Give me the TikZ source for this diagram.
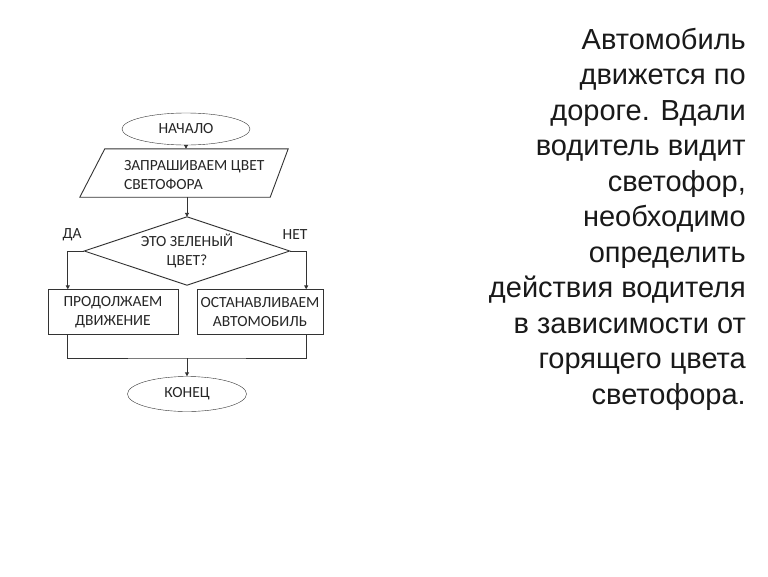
\documentclass[tikz,border=0pt]{standalone}
\usepackage{fontspec}
\setmainfont{Liberation Sans}
\newfontfamily\chartfont{Carlito}
\usetikzlibrary{arrows.meta,shapes.geometric}

\begin{document}
\begin{tikzpicture}[x=1pt,y=-1pt,
    chart/.style={font=\chartfont\fontsize{15.5}{18.5}\selectfont,text=black!85},
    terminal/.style={chart,draw=black!80,ellipse,inner sep=0pt},
    block/.style={chart,draw=black!80,rectangle,align=center,inner sep=0pt},
    frame/.style={chart,inner sep=0pt},
    line/.style={draw=black!80,line width=0.9pt},
    flow/.style={line,-{Triangle[length=4pt,width=4pt]}}]
  \useasboundingbox[fill=white] (0,0) rectangle (768,576);

  % flowchart
  \node[terminal,minimum width=128pt,minimum height=32pt] (start) at (186,129) {НАЧАЛО};
  \node[frame,minimum width=208pt,minimum height=48pt] (ask) at (184,173) {};
  \draw[line] ([xshift=25pt]ask.north west) -- (ask.north east)
    -- ([xshift=-18pt]ask.south east) -- (ask.south west) -- cycle;
  \node[chart,anchor=west,align=left,inner sep=0pt] (asktext) at ([xshift=44pt,yshift=-2pt]ask.west) {ЗАПРАШИВАЕМ ЦВЕТ\\СВЕТОФОРА};
  \node[frame,align=center,minimum width=205pt,minimum height=68pt] (check) at (187,251) {ЭТО ЗЕЛЕНЫЙ\\ЦВЕТ?};
  \draw[line] (check.north) -- (check.east) -- (check.south) -- (check.west) -- cycle;
  \node[block,minimum width=130pt,minimum height=45pt] (go) at (113,312) {ПРОДОЛЖАЕМ\\ДВИЖЕНИЕ};
  \node[block,minimum width=126pt,minimum height=45pt] (stop) at (260,312) {ОСТАНАВЛИВАЕМ\\АВТОМОБИЛЬ};
  \node[terminal,minimum width=119pt,minimum height=35pt] (end) at (187,394) {КОНЕЦ};
  \node[chart] (yes) at (72,235) {ДА};
  \node[chart] (no) at (295,235) {НЕТ};
  \coordinate (join) at (187,358);

  \draw[flow] (start.south) -- (start.south |- ask.north);
  \draw[flow] (ask.south -| check.north) -- (check.north);
  \draw[flow] (check.west) -| ([xshift=20pt]go.north west);
  \draw[flow] (check.east) -| ([xshift=-17pt]stop.north east);
  \draw[line] ([xshift=20pt]go.south west) |- (join) -| ([xshift=-17pt]stop.south east);
  \draw[flow] (join) -- (end.north);

  % task text
  \node[anchor=north east,align=right,inner sep=0pt,text=black!90,
        font=\fontsize{29}{35.5}\selectfont] (task) at (746,28)
    {Автомобиль\\движется по\\дороге. Вдали\\водитель видит\\светофор,\\необходимо\\определить\\действия водителя\\в зависимости от\\горящего цвета\\светофора.};
\end{tikzpicture}
\end{document}
